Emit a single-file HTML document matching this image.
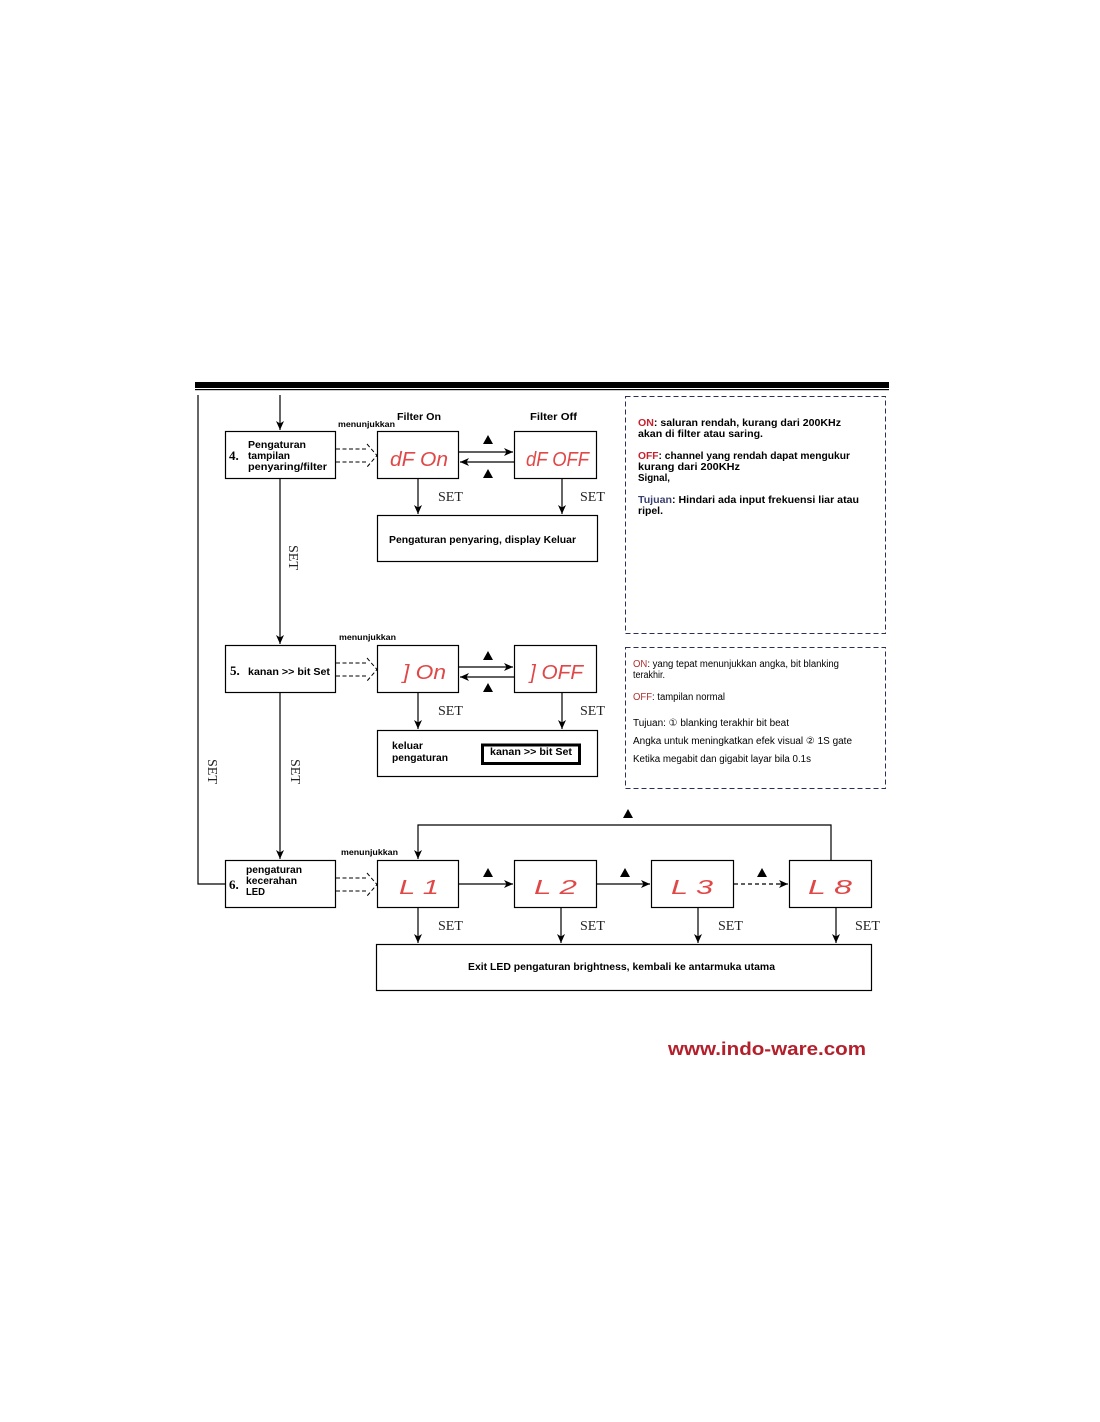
<!DOCTYPE html>
<html>
<head>
<meta charset="utf-8">
<style>
html,body{margin:0;padding:0;background:#fff;}
svg{display:block;}
.b{font-family:"Liberation Sans","DejaVu Sans",sans-serif;font-weight:bold;font-size:10px;fill:#000;}
.n{font-family:"Liberation Sans","DejaVu Sans",sans-serif;font-size:10px;fill:#000;}
.s{font-family:"Liberation Serif",serif;font-size:14px;fill:#222;}
.num{font-family:"Liberation Serif",serif;font-weight:bold;font-size:13px;fill:#000;}
.led{font-family:"Liberation Sans","DejaVu Sans",sans-serif;font-style:italic;font-size:20px;fill:#e04848;}
.sm{font-family:"Liberation Sans","DejaVu Sans",sans-serif;font-weight:bold;font-size:8px;fill:#000;}
</style>
</head>
<body>
<svg width="1100" height="1422" viewBox="0 0 1100 1422" xmlns="http://www.w3.org/2000/svg">
<defs>
<marker id="a" markerWidth="10" markerHeight="10" refX="9" refY="5" orient="auto" markerUnits="userSpaceOnUse">
<path d="M0,1 L9,5 L0,9 L2.5,5 z" fill="#000"/>
</marker>
</defs>
<rect width="1100" height="1422" fill="#fff"/>

<!-- header bar -->
<rect x="195" y="382" width="694" height="6" fill="#000"/>
<rect x="195" y="389" width="694" height="1.2" fill="#000"/>

<!-- left return line -->
<polyline points="198,395 198,884 225,884" fill="none" stroke="#000" stroke-width="1.2"/>

<!-- main vertical arrows -->
<line x1="280" y1="395" x2="280" y2="430" stroke="#000" stroke-width="1.2" marker-end="url(#a)"/>
<line x1="280" y1="479" x2="280" y2="644" stroke="#000" stroke-width="1.2" marker-end="url(#a)"/>
<line x1="280" y1="693" x2="280" y2="859" stroke="#000" stroke-width="1.2" marker-end="url(#a)"/>

<!-- rotated SET labels -->
<text class="s" transform="translate(289,545) rotate(90)">SET</text>
<text class="s" transform="translate(291,759) rotate(90)">SET</text>
<text class="s" transform="translate(208,759) rotate(90)">SET</text>

<!-- ===== Row 4 ===== -->
<rect x="225.5" y="431.5" width="110" height="47" fill="#fff" stroke="#000" stroke-width="1.2"/>
<text class="num" x="229" y="460">4.</text>
<text class="b" x="248" y="448" textLength="58" lengthAdjust="spacingAndGlyphs">Pengaturan</text>
<text class="b" x="248" y="459" textLength="42" lengthAdjust="spacingAndGlyphs">tampilan</text>
<text class="b" x="248" y="470" textLength="79" lengthAdjust="spacingAndGlyphs">penyaring/filter</text>
<text class="sm" x="338" y="427" textLength="57" lengthAdjust="spacingAndGlyphs">menunjukkan</text>
<text class="b" x="397" y="420" textLength="44" lengthAdjust="spacingAndGlyphs">Filter On</text>
<text class="b" x="530" y="420" textLength="47" lengthAdjust="spacingAndGlyphs">Filter Off</text>

<!-- dashed hollow arrow 4 -->
<g stroke="#000" stroke-width="1" stroke-dasharray="4,2.5" fill="none">
<line x1="336" y1="449" x2="368" y2="449"/>
<line x1="336" y1="462" x2="368" y2="462"/>
<polyline points="367,444 377,455.5 367,467"/>
</g>

<rect x="377.5" y="431.5" width="81" height="47" fill="#fff" stroke="#000" stroke-width="1.2"/>
<text class="led" x="390" y="466" textLength="58" lengthAdjust="spacingAndGlyphs">dF On</text>
<rect x="514.5" y="431.5" width="82" height="47" fill="#fff" stroke="#000" stroke-width="1.2"/>
<text class="led" x="526" y="466" textLength="63" lengthAdjust="spacingAndGlyphs">dF OFF</text>

<line x1="459" y1="452" x2="513" y2="452" stroke="#000" stroke-width="1.2" marker-end="url(#a)"/>
<line x1="514" y1="462" x2="460" y2="462" stroke="#000" stroke-width="1.2" marker-end="url(#a)"/>
<path d="M483,444 L493,444 L488,435 z" fill="#000"/>
<path d="M483,478 L493,478 L488,469 z" fill="#000"/>

<line x1="418" y1="479" x2="418" y2="514" stroke="#000" stroke-width="1.2" marker-end="url(#a)"/>
<line x1="562" y1="479" x2="562" y2="514" stroke="#000" stroke-width="1.2" marker-end="url(#a)"/>
<text class="s" x="438" y="501">SET</text>
<text class="s" x="580" y="501">SET</text>

<rect x="377.5" y="515.5" width="220" height="46" fill="#fff" stroke="#000" stroke-width="1.2"/>
<text class="b" x="389" y="543" textLength="187" lengthAdjust="spacingAndGlyphs">Pengaturan penyaring, display Keluar</text>

<!-- info box 1 -->
<rect x="625.5" y="396.5" width="260" height="237" fill="#fff" stroke="#2a2f55" stroke-width="1" stroke-dasharray="5,3"/>
<text class="b" x="638" y="426" textLength="203" lengthAdjust="spacingAndGlyphs"><tspan fill="#c8202e">ON</tspan>: saluran rendah, kurang dari 200KHz</text>
<text class="b" x="638" y="437" textLength="125" lengthAdjust="spacingAndGlyphs">akan di filter atau saring.</text>
<text class="b" x="638" y="459" textLength="212" lengthAdjust="spacingAndGlyphs"><tspan fill="#c8202e">OFF</tspan>: channel yang rendah dapat mengukur</text>
<text class="b" x="638" y="470" textLength="102" lengthAdjust="spacingAndGlyphs">kurang dari 200KHz</text>
<text class="b" x="638" y="481" textLength="32" lengthAdjust="spacingAndGlyphs">Signal,</text>
<text class="b" x="638" y="503" textLength="221" lengthAdjust="spacingAndGlyphs"><tspan fill="#3a4070">Tujuan</tspan>: Hindari ada input frekuensi liar atau</text>
<text class="b" x="638" y="514" textLength="25" lengthAdjust="spacingAndGlyphs">ripel.</text>

<!-- ===== Row 5 ===== -->
<rect x="225.5" y="645.5" width="110" height="47" fill="#fff" stroke="#000" stroke-width="1.2"/>
<text class="num" x="230" y="675">5.</text>
<text class="b" x="248" y="675" textLength="82" lengthAdjust="spacingAndGlyphs">kanan &gt;&gt; bit Set</text>
<text class="sm" x="339" y="640" textLength="57" lengthAdjust="spacingAndGlyphs">menunjukkan</text>

<g stroke="#000" stroke-width="1" stroke-dasharray="4,2.5" fill="none">
<line x1="336" y1="663" x2="368" y2="663"/>
<line x1="336" y1="676" x2="368" y2="676"/>
<polyline points="367,658 377,669.5 367,681"/>
</g>

<rect x="377.5" y="645.5" width="81" height="47" fill="#fff" stroke="#000" stroke-width="1.2"/>
<text class="led" x="403" y="679" textLength="43" lengthAdjust="spacingAndGlyphs">] On</text>
<rect x="514.5" y="645.5" width="82" height="47" fill="#fff" stroke="#000" stroke-width="1.2"/>
<text class="led" x="530" y="679" textLength="53" lengthAdjust="spacingAndGlyphs">] OFF</text>

<line x1="459" y1="667" x2="513" y2="667" stroke="#000" stroke-width="1.2" marker-end="url(#a)"/>
<line x1="514" y1="677" x2="460" y2="677" stroke="#000" stroke-width="1.2" marker-end="url(#a)"/>
<path d="M483,660 L493,660 L488,651 z" fill="#000"/>
<path d="M483,692 L493,692 L488,683 z" fill="#000"/>

<line x1="418" y1="693" x2="418" y2="729" stroke="#000" stroke-width="1.2" marker-end="url(#a)"/>
<line x1="562" y1="693" x2="562" y2="729" stroke="#000" stroke-width="1.2" marker-end="url(#a)"/>
<text class="s" x="438" y="715">SET</text>
<text class="s" x="580" y="715">SET</text>

<rect x="377.5" y="730.5" width="220" height="46" fill="#fff" stroke="#000" stroke-width="1.2"/>
<text class="b" x="392" y="749" textLength="31" lengthAdjust="spacingAndGlyphs">keluar</text>
<text class="b" x="392" y="761" textLength="56" lengthAdjust="spacingAndGlyphs">pengaturan</text>
<rect x="482.5" y="745" width="97" height="18.5" fill="#fff" stroke="#000" stroke-width="3"/>
<text class="b" x="490" y="755" textLength="82" lengthAdjust="spacingAndGlyphs">kanan &gt;&gt; bit Set</text>

<!-- info box 2 -->
<rect x="625.5" y="647.5" width="260" height="141" fill="#fff" stroke="#2a2f55" stroke-width="1" stroke-dasharray="5,3"/>
<text class="n" x="633" y="667" textLength="206" lengthAdjust="spacingAndGlyphs"><tspan fill="#b03030">ON</tspan>: yang tepat menunjukkan angka, bit blanking</text>
<text class="n" x="633" y="678" textLength="32" lengthAdjust="spacingAndGlyphs">terakhir.</text>
<text class="n" x="633" y="700" textLength="92" lengthAdjust="spacingAndGlyphs"><tspan fill="#b03030">OFF</tspan>: tampilan normal</text>
<text class="n" x="633" y="726" textLength="156" lengthAdjust="spacingAndGlyphs">Tujuan: ① blanking terakhir bit beat</text>
<text class="n" x="633" y="744" textLength="219" lengthAdjust="spacingAndGlyphs">Angka untuk meningkatkan efek visual ② 1S gate</text>
<text class="n" x="633" y="762" textLength="178" lengthAdjust="spacingAndGlyphs">Ketika megabit dan gigabit layar bila 0.1s</text>

<!-- ===== Row 6 ===== -->
<rect x="225.5" y="860.5" width="110" height="47" fill="#fff" stroke="#000" stroke-width="1.2"/>
<text class="num" x="229" y="889">6.</text>
<text class="b" x="246" y="873" textLength="56" lengthAdjust="spacingAndGlyphs">pengaturan</text>
<text class="b" x="246" y="884" textLength="51" lengthAdjust="spacingAndGlyphs">kecerahan</text>
<text class="b" x="246" y="895" textLength="19" lengthAdjust="spacingAndGlyphs">LED</text>
<text class="sm" x="341" y="855" textLength="57" lengthAdjust="spacingAndGlyphs">menunjukkan</text>

<g stroke="#000" stroke-width="1" stroke-dasharray="4,2.5" fill="none">
<line x1="336" y1="878" x2="368" y2="878"/>
<line x1="336" y1="891" x2="368" y2="891"/>
<polyline points="367,873 377,884.5 367,896"/>
</g>

<!-- loop -->
<polyline points="831,860 831,825 418,825 418,859" fill="none" stroke="#000" stroke-width="1.2" marker-end="url(#a)"/>
<path d="M623,818 L633,818 L628,809 z" fill="#000"/>

<rect x="377.5" y="860.5" width="81" height="47" fill="#fff" stroke="#000" stroke-width="1.2"/>
<text class="led" x="399" y="894" textLength="40" lengthAdjust="spacingAndGlyphs">L   1</text>
<rect x="514.5" y="860.5" width="82" height="47" fill="#fff" stroke="#000" stroke-width="1.2"/>
<text class="led" x="534" y="894" textLength="43" lengthAdjust="spacingAndGlyphs">L   2</text>
<rect x="651.5" y="860.5" width="82" height="47" fill="#fff" stroke="#000" stroke-width="1.2"/>
<text class="led" x="671" y="894" textLength="42" lengthAdjust="spacingAndGlyphs">L   3</text>
<rect x="789.5" y="860.5" width="82" height="47" fill="#fff" stroke="#000" stroke-width="1.2"/>
<text class="led" x="808" y="894" textLength="44" lengthAdjust="spacingAndGlyphs">L   8</text>

<line x1="459" y1="884" x2="513" y2="884" stroke="#000" stroke-width="1.2" marker-end="url(#a)"/>
<line x1="597" y1="884" x2="650" y2="884" stroke="#000" stroke-width="1.2" marker-end="url(#a)"/>
<line x1="734" y1="884" x2="782" y2="884" stroke="#000" stroke-width="1.2" stroke-dasharray="4,3"/>
<line x1="780" y1="884" x2="788" y2="884" stroke="#000" stroke-width="1.2" marker-end="url(#a)"/>
<path d="M483,877 L493,877 L488,868 z" fill="#000"/>
<path d="M620,877 L630,877 L625,868 z" fill="#000"/>
<path d="M757,877 L767,877 L762,868 z" fill="#000"/>

<line x1="418" y1="908" x2="418" y2="943" stroke="#000" stroke-width="1.2" marker-end="url(#a)"/>
<line x1="561" y1="908" x2="561" y2="943" stroke="#000" stroke-width="1.2" marker-end="url(#a)"/>
<line x1="698" y1="908" x2="698" y2="943" stroke="#000" stroke-width="1.2" marker-end="url(#a)"/>
<line x1="836" y1="908" x2="836" y2="943" stroke="#000" stroke-width="1.2" marker-end="url(#a)"/>
<text class="s" x="438" y="930">SET</text>
<text class="s" x="580" y="930">SET</text>
<text class="s" x="718" y="930">SET</text>
<text class="s" x="855" y="930">SET</text>

<rect x="376.5" y="944.5" width="495" height="46" fill="#fff" stroke="#000" stroke-width="1.2"/>
<text class="b" x="468" y="970" textLength="307" lengthAdjust="spacingAndGlyphs">Exit LED pengaturan brightness, kembali ke antarmuka utama</text>

<!-- watermark -->
<text x="668" y="1055" font-family="Liberation Sans, DejaVu Sans, sans-serif" font-weight="bold" font-size="18" fill="#b3202c" textLength="198" lengthAdjust="spacingAndGlyphs">www.indo-ware.com</text>
</svg>
</body>
</html>
